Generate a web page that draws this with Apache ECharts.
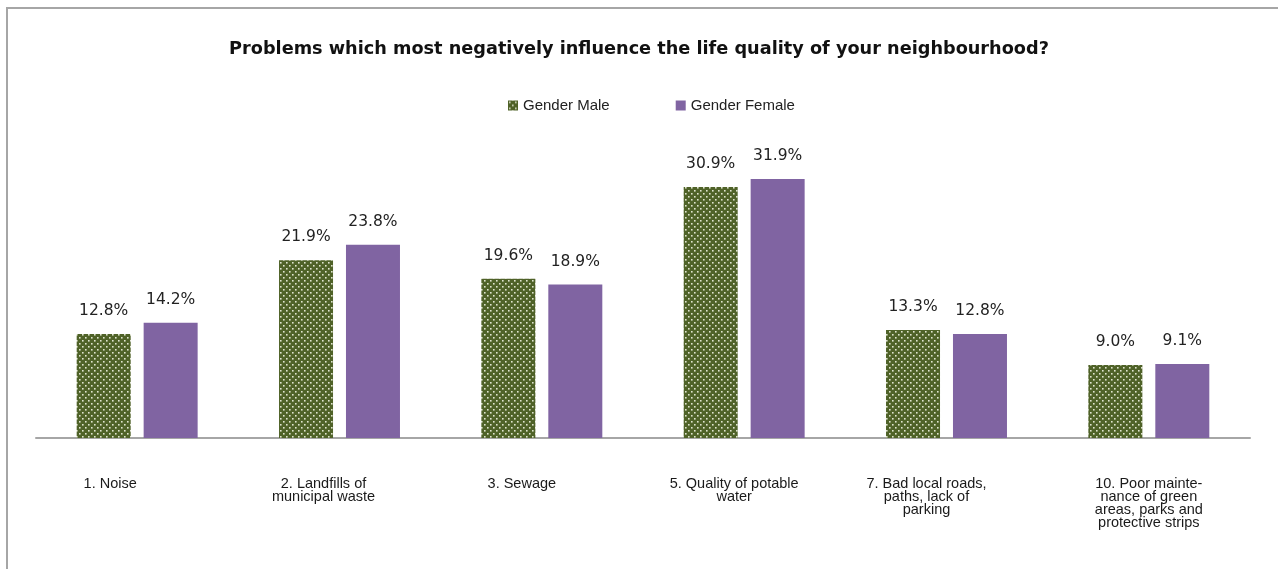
<!DOCTYPE html>
<html>
<head>
<meta charset="utf-8">
<style>
  html, body { margin: 0; padding: 0; background: #fff; }
  #frame { position: absolute; left: 6px; top: 7px; width: 1272px; height: 562px;
           border-top: 2px solid #a6a6a6; border-left: 2px solid #a6a6a6; box-sizing: border-box; }
  #chart { position: absolute; left: 0; top: 0; width: 1278px; height: 569px; }
</style>
<script src="https://cdn.jsdelivr.net/npm/echarts@6/dist/echarts.min.js"></script>
</head>
<body>
<div id="frame"></div>
<div id="chart"></div>
<script>
// Survey answers by gender, share of respondents (%)
const categories = [
  '1. Noise',
  '2. Landfills of\nmunicipal waste',
  '3. Sewage',
  '5. Quality of potable\nwater',
  '7. Bad local roads,\npaths, lack of\nparking',
  '10. Poor mainte-\nnance of green\nareas, parks and\nprotective strips'
];
const genderMale = [12.8, 21.9, 19.6, 30.9, 13.3, 9.0];
const genderFemale = [14.2, 23.8, 18.9, 31.9, 12.8, 9.1];
const seriesNames = ['Gender Male', 'Gender Female'];

// Dotted green fill for the male bars
function dotPattern() {
  const c = document.createElement('canvas');
  c.width = 6; c.height = 6;
  const g = c.getContext('2d');
  g.fillStyle = '#4f6228';
  g.fillRect(0, 0, 6, 6);
  g.fillStyle = '#dfe4cf';
  g.fillRect(1, 1, 1.6, 1.6);
  g.fillRect(4, 4, 1.6, 1.6);
  return c;
}
const maleFill = { image: dotPattern(), repeat: 'repeat' };
const femaleFill = '#8064a2';

// horizontal nudges of the category captions (px, leftwards)
const captionShift = [27, 16, 20, 10, 20, 0];
const rich = {};
captionShift.forEach((s, i) => {
  rich['c' + i] = {
    fontFamily: "'Liberation Sans Narrow', 'Liberation Sans', Arial, sans-serif",
    fontSize: 14.5, lineHeight: 13, color: '#1a1a1a',
    padding: [0, s * 2, 0, 0]
  };
});

const valueLabel = {
  show: true, position: 'top', distance: 15,
  fontFamily: '"DejaVu Sans", sans-serif', fontSize: 15.5, color: '#222',
  formatter: p => p.value.toFixed(1) + '%'
};

const chart = echarts.init(document.getElementById('chart'), null, { renderer: 'canvas' });
chart.setOption({
  animation: false,
  title: {
    text: 'Problems which most negatively influence the life quality of your neighbourhood?',
    left: 'center', top: 35,
    textStyle: { fontFamily: 'DejaVu Sans, Verdana, sans-serif', fontSize: 17.7, fontWeight: 'bold', color: '#111' }
  },
  legend: {
    data: seriesNames,
    left: 503, top: 93,
    itemWidth: 10, itemHeight: 10, itemGap: 66,
    icon: 'rect',
    textStyle: { fontFamily: "'Liberation Sans', Arial, sans-serif", fontSize: 15, color: '#222' }
  },
  grid: { left: 36, right: 28, top: 153.8, bottom: 131, containLabel: false },
  xAxis: {
    type: 'category', data: categories,
    axisLine: { lineStyle: { color: '#a6a6a6', width: 2 } },
    axisTick: { show: false },
    axisLabel: {
      interval: 0, margin: 39, verticalAlign: 'top',
      formatter: (v, i) => v.split('\n').map(l => '{c' + i + '|' + l + '}').join('\n'),
      rich: rich
    }
  },
  yAxis: { type: 'value', min: 0, max: 35, show: false, splitLine: { show: false } },
  series: [
    { name: seriesNames[0], type: 'bar', data: genderMale, barWidth: 54, barGap: '24%',
      itemStyle: { color: maleFill }, label: valueLabel },
    { name: seriesNames[1], type: 'bar', data: genderFemale, barWidth: 54,
      itemStyle: { color: femaleFill }, label: valueLabel }
  ]
});
</script>
</body>
</html>
